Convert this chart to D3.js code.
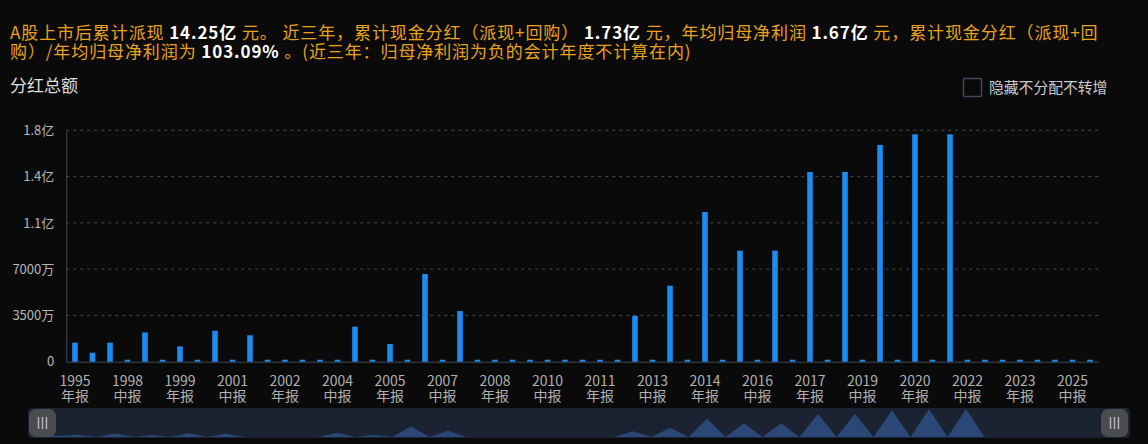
<!DOCTYPE html>
<html><head><meta charset="utf-8">
<script src="https://cdn.jsdelivr.net/npm/d3@7"></script>
<style>
html,body{margin:0;padding:0;background:#0a0a0a;}
svg{display:block;font-family:"Noto Sans CJK SC","Noto Sans",sans-serif;}
</style></head>
<body><svg id="c" width="1148" height="444"></svg>
<script>
// ---- data ----
const categories = [
 "1995年报","1996年报","1997年报",
 "1998中报","1998年报","1999中报","1999年报","2000中报","2000年报","2001中报","2001年报",
 "2002中报","2002年报","2003中报","2003年报","2004中报","2004年报","2005中报","2005年报",
 "2006中报","2006年报","2007中报","2007年报","2008中报","2008年报","2009中报","2009年报",
 "2010中报","2010年报","2011中报","2011年报","2012中报","2012年报","2013中报","2013年报",
 "2014中报","2014年报","2015中报","2015年报","2016中报","2016年报","2017中报","2017年报",
 "2018中报","2018年报","2019中报","2019年报","2020中报","2020年报","2021中报","2021年报",
 "2022中报","2022年报","2023中报","2023年报","2024中报","2024年报","2025中报","2025年报"
];
// 分红总额 (元)
const dividends = [
 14400000, 6800000, 14400000,
 0, 22200000, 0, 11600000, 0, 23400000, 0, 20000000,
 0, 0, 0, 0, 0, 26500000, 0, 13400000,
 0, 66300000, 0, 38300000, 0, 0, 0, 0,
 0, 0, 0, 0, 0, 34600000, 0, 57500000,
 0, 113200000, 0, 84000000, 0, 84000000, 0, 143500000,
 0, 143500000, 0, 163900000, 0, 172000000, 0, 172000000,
 0, 0, 0, 0, 0, 0, 0, 0
];
const yTickValues = [0, 35000000, 70000000, 105000000, 140000000, 175000000];
const yTickLabels = ["0", "3500万", "7000万", "1.1亿", "1.4亿", "1.8亿"];

const titleLine1 = [
 ["A股上市后累计派现 ", false], ["14.25亿", true], [" 元。 近三年，累计现金分红（派现+回购） ", false],
 ["1.73亿", true], [" 元，年均归母净利润 ", false], ["1.67亿", true], [" 元，累计现金分红（派现+回", false]
];
const titleLine2 = [
 ["购）/年均归母净利润为 ", false], ["103.09%", true], [" 。(近三年：归母净利润为负的会计年度不计算在内)", false]
];

// ---- drawing ----
const svg = d3.select("#c");
const orange = "#e9a21a";

function titleLine(parts, yy) {
  const t = svg.append("text").attr("x", 10).attr("y", yy).attr("font-size", 17)
    .attr("letter-spacing", 0.9).style("white-space", "pre");
  parts.forEach(([s, b]) => {
    t.append("tspan").text(s)
      .attr("fill", b ? "#ffffff" : orange)
      .attr("font-weight", b ? "bold" : "normal");
  });
}
titleLine(titleLine1, 39);
titleLine(titleLine2, 58);

svg.append("text").attr("x", 10).attr("y", 92).attr("font-size", 17)
  .attr("fill", "#dddddd").text("分红总额");

// checkbox legend
svg.append("rect").attr("x", 963.5).attr("y", 78.5).attr("width", 18).attr("height", 18)
  .attr("rx", 1).attr("fill", "none").attr("stroke", "#3b4a5e").attr("stroke-width", 1.5);
svg.append("text").attr("x", 989).attr("y", 93).attr("font-size", 14.8)
  .attr("fill", "#cccccc").text("隐藏不分配不转增");

// plot
const pLeft = 66.25, pRight = 1098.75, pTop = 130.3, pBottom = 361.7;
const x = d3.scaleBand().domain(categories).range([pLeft, pRight]).padding(0);
const y = d3.scaleLinear().domain([0, 175000000]).range([pBottom, pTop]);

// grid
svg.append("g").selectAll("line").data(yTickValues.slice(1)).join("line")
  .attr("x1", pLeft).attr("x2", pRight + 2)
  .attr("y1", d => y(d)).attr("y2", d => y(d))
  .attr("stroke", "#4a4a4a").attr("stroke-width", 1).attr("stroke-dasharray", "3,4");

// y axis
const yAxis = d3.axisLeft(y).tickValues(yTickValues)
  .tickFormat((d, i) => yTickLabels[i]).tickSize(0).tickPadding(12);
const ya = svg.append("g").attr("transform", `translate(${pLeft},0)`).call(yAxis);
ya.select(".domain").attr("stroke", "#3f4b58");
ya.selectAll("text").attr("fill", "#b8b8b8").attr("font-size", 13)
  .attr("font-family", "\"Noto Sans CJK SC\",sans-serif");

// x axis
const xAxis = d3.axisBottom(x).tickSize(0).tickFormat("");
const xa = svg.append("g").attr("transform", `translate(0,${pBottom})`).call(xAxis);
xa.select(".domain").attr("stroke", "#3f4b58");

const lab = svg.append("g");
categories.forEach((c, i) => {
  if (i % 3 !== 0) return;
  const cx = x(c) + x.bandwidth() / 2;
  const t = lab.append("text").attr("text-anchor", "middle").attr("fill", "#b0b0b0").attr("font-size", 14);
  t.append("tspan").attr("x", cx).attr("y", 386).text(c.slice(0, 4));
  t.append("tspan").attr("x", cx).attr("y", 401).text(c.slice(4));
});

// bars
const bw = 5.6;
svg.append("g").selectAll("rect").data(categories).join("rect")
  .attr("x", d => x(d) + x.bandwidth() / 2 - bw / 2)
  .attr("width", bw)
  .attr("y", (d, i) => Math.min(y(dividends[i]), pBottom - 2))
  .attr("height", (d, i) => Math.max(pBottom - y(dividends[i]), 2))
  .attr("fill", "#1b8cf0");

// data zoom slider
const sTop = 408, sBot = 438, sL = 28, sR = 1130;
svg.append("rect").attr("x", sL).attr("y", sTop).attr("width", sR - sL).attr("height", sBot - sTop)
  .attr("rx", 4).attr("fill", "#1b2231");
const sx = d3.scalePoint().domain(categories).range([41, 1114]);
const sy = d3.scaleLinear().domain([0, d3.max(dividends)]).range([sBot - 1, sTop + 1]);
const area = d3.area().x((d, i) => sx(categories[i])).y0(sBot - 1).y1(d => sy(d));
svg.append("path").datum(dividends).attr("d", area).attr("fill", "#2b4a7a").attr("opacity", 0.95);

function handle(hx) {
  svg.append("rect").attr("x", hx).attr("y", sTop + 1).attr("width", 27).attr("height", sBot - sTop - 2)
    .attr("rx", 7).attr("fill", "#4a4c50");
  [-4, 0, 4].forEach(dx => {
    svg.append("line").attr("x1", hx + 13.5 + dx).attr("x2", hx + 13.5 + dx)
      .attr("y1", sTop + 9).attr("y2", sBot - 9).attr("stroke", "#b8b8b8").attr("stroke-width", 1.4);
  });
}
handle(29);
handle(1101);
</script></body></html>
